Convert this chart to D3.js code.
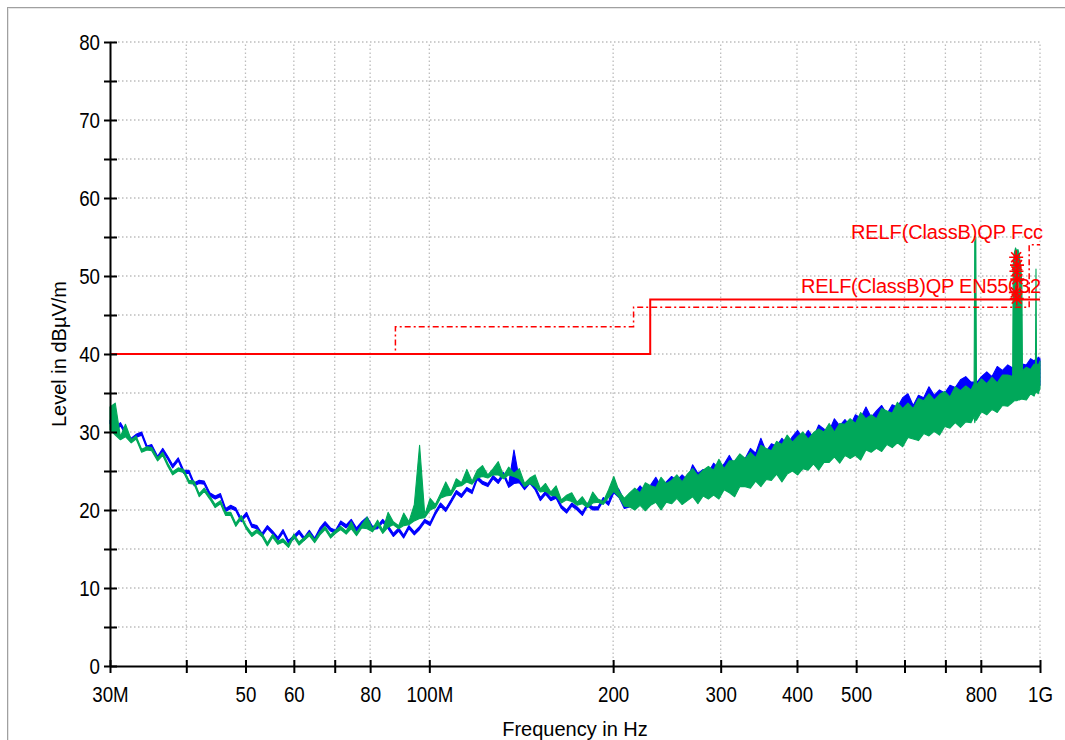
<!DOCTYPE html>
<html>
<head>
<meta charset="utf-8">
<script src="https://cdn.jsdelivr.net/npm/d3@7"></script>
<style>
body { margin: 0; background: #fff; }
svg { display: block; }
.axis text { font-family: "Liberation Sans", Arial, sans-serif; font-size: 22px; fill: #000; }
.axis line, .axis path { stroke: #000; stroke-width: 2; }
.grid line { stroke: #bdbdbd; stroke-width: 1.3; stroke-dasharray: 1.5,2.5; }
.title { font-family: "Liberation Sans", Arial, sans-serif; font-size: 20px; fill: #000; }
.limit-label { font-family: "Liberation Sans", Arial, sans-serif; font-size: 20px; fill: #ff0000; }
</style>
</head>
<body>
<script>
// Chart basic vars
var width = 1065,
    height = 740,
    margin = {left: 110, top: 42, right: 25, bottom: 74};

// sweep frequencies in MHz, shared by both traces
var freqs = [
  30.0, 30.6, 31.2, 31.8, 32.5, 33.1, 33.8, 34.5, 35.1, 35.9,
  36.6, 37.3, 38.0, 38.8, 39.6, 40.4, 41.2, 42.0, 42.8, 43.7,
  44.6, 45.5, 46.4, 47.3, 48.2, 49.2, 50.2, 51.2, 52.2, 53.2,
  54.3, 55.4, 56.5, 57.6, 58.8, 60.0, 61.2, 62.4, 63.6, 64.9,
  66.2, 67.5, 68.9, 70.2, 71.6, 73.1, 74.5, 76.0, 77.5, 79.1,
  80.7, 82.3, 83.9, 85.6, 87.3, 89.1, 90.8, 92.6, 94.5, 96.4,
  98.3, 100.3, 102.3, 104.3, 106.4, 108.5, 110.7, 112.9, 115.2, 117.5,
  119.8, 122.2, 124.7, 127.2, 129.7, 132.3, 134.9, 137.6, 140.4, 143.2,
  146.1, 149.0, 152.0, 155.0, 158.1, 161.3, 164.5, 167.8, 171.1, 174.6,
  178.1, 181.6, 185.2, 188.9, 192.7, 196.6, 200.5, 204.5, 208.6, 212.8,
  217.0, 221.4, 225.8, 230.3, 234.9, 239.6, 244.4, 249.3, 254.3, 259.4,
  264.6, 269.9, 275.3, 280.8, 286.4, 292.1, 298.0, 303.9, 310.0, 316.2,
  322.5, 329.0, 335.6, 342.3, 349.1, 356.1, 363.2, 370.5, 377.9, 385.5,
  393.2, 401.0, 409.1, 417.2, 425.6, 434.1, 442.8, 451.6, 460.6, 469.9,
  479.3, 488.8, 498.6, 508.6, 518.8, 529.1, 539.7, 550.5, 561.5, 572.8,
  584.2, 595.9, 607.8, 620.0, 632.4, 645.0, 657.9, 671.1, 684.5, 698.2,
  712.2, 726.4, 740.9, 755.8, 770.9, 780.0, 782.0, 785.0, 787.0, 802.0,
  818.1, 834.4, 851.1, 868.1, 885.5, 902.0, 904.0, 908.0, 912.0, 916.0,
  920.0, 925.0, 930.0, 934.0, 936.0, 950.0, 965.0, 978.0, 983.0, 985.0,
  987.0, 993.0, 1000.0
];

// blue trace: max / min level per sweep point (dBuV/m)
var blueHi = [
  31.5, 30.4, 31.2, 30.1, 29.2, 29.7, 30.0, 28.2, 28.4, 26.9,
  27.9, 26.9, 25.8, 26.7, 25.1, 25.1, 23.5, 23.8, 23.7, 22.2,
  21.8, 22.1, 20.2, 20.6, 20.3, 18.9, 19.7, 18.2, 18.0, 17.0,
  18.0, 17.3, 16.5, 17.5, 16.1, 16.7, 17.4, 16.5, 17.4, 16.4,
  17.7, 18.5, 17.7, 17.4, 18.6, 18.1, 18.8, 17.7, 18.5, 19.1,
  17.9, 18.0, 18.8, 18.0, 17.0, 17.7, 16.8, 18.0, 17.2, 17.9,
  18.8, 18.4, 19.8, 20.9, 20.2, 21.3, 22.5, 22.0, 22.9, 22.5,
  24.3, 23.7, 23.4, 24.4, 23.8, 24.8, 23.3, 27.7, 23.9, 23.0,
  23.8, 23.0, 21.6, 22.4, 21.6, 21.9, 20.6, 20.0, 20.9, 20.4,
  19.7, 20.9, 20.4, 20.4, 21.6, 21.0, 23.4, 22.6, 21.2, 21.8,
  22.2, 23.1, 22.3, 23.2, 24.2, 23.0, 23.6, 24.3, 23.8, 24.5,
  23.9, 25.8, 24.7, 25.2, 24.8, 26.0, 25.3, 25.9, 27.0, 25.8,
  26.9, 26.6, 27.9, 27.3, 29.2, 27.5, 28.5, 28.2, 29.2, 28.4,
  29.4, 30.2, 29.2, 30.2, 29.3, 30.9, 30.4, 30.1, 31.7, 30.8,
  31.6, 30.8, 32.2, 31.8, 33.2, 31.9, 32.7, 33.4, 32.3, 33.5,
  33.2, 34.4, 34.9, 33.4, 34.7, 34.4, 35.8, 34.7, 35.4, 35.0,
  36.0, 35.7, 36.7, 37.1, 36.4, 36.4, 36.5, 36.6, 36.3, 37.1,
  37.7, 37.1, 38.4, 37.9, 38.6, 38.2, 38.3, 38.0, 38.4, 38.1,
  38.5, 38.2, 38.6, 38.4, 38.7, 38.6, 39.4, 39.1, 39.3, 39.5,
  39.0, 39.6, 39.4
];
var blueLo = [
  31.1, 30.0, 30.8, 29.7, 28.8, 29.3, 29.6, 27.8, 28.0, 26.5,
  27.5, 26.5, 25.4, 26.3, 24.7, 24.7, 23.1, 23.4, 23.3, 21.8,
  21.4, 21.7, 19.8, 20.2, 19.9, 18.5, 19.3, 17.8, 17.6, 16.6,
  17.6, 16.9, 16.1, 17.1, 15.7, 16.3, 17.0, 16.1, 17.0, 16.0,
  17.3, 18.1, 17.3, 17.0, 18.2, 17.7, 18.4, 17.3, 18.1, 18.7,
  17.5, 17.6, 18.4, 17.6, 16.6, 17.3, 16.4, 17.6, 16.8, 17.5,
  18.4, 18.0, 19.4, 20.5, 19.8, 20.9, 22.1, 21.6, 22.5, 22.1,
  23.9, 23.3, 23.0, 24.0, 23.4, 24.4, 22.9, 23.4, 23.5, 22.6,
  23.4, 22.6, 21.2, 22.0, 21.2, 21.5, 20.2, 19.6, 20.5, 20.0,
  19.3, 20.5, 20.0, 20.0, 21.2, 20.6, 22.2, 21.6, 20.2, 20.4,
  20.9, 21.0, 21.1, 21.2, 21.3, 21.4, 21.5, 21.6, 21.7, 21.8,
  21.9, 22.0, 22.1, 22.2, 22.3, 22.4, 22.6, 22.8, 23.0, 23.2,
  23.4, 23.6, 23.8, 24.0, 24.2, 24.4, 24.6, 24.8, 25.0, 25.2,
  25.4, 25.6, 25.8, 26.0, 26.2, 26.4, 26.6, 26.8, 27.0, 27.2,
  27.4, 27.5, 27.6, 27.8, 28.0, 28.2, 28.4, 28.6, 28.8, 29.0,
  29.2, 29.4, 29.6, 29.8, 30.0, 30.2, 30.4, 30.6, 30.8, 31.1,
  31.3, 31.5, 31.7, 31.9, 32.2, 32.4, 32.4, 32.4, 32.4, 33.0,
  33.2, 33.4, 33.6, 33.8, 34.1, 34.4, 34.5, 34.5, 34.5, 34.5,
  34.5, 34.5, 34.5, 34.5, 34.7, 34.9, 35.2, 35.5, 35.6, 35.6,
  35.7, 35.8, 36.0
];

// green trace: max / min level per sweep point (dBuV/m)
var greenHi = [
  33.2, 33.7, 29.4, 31.0, 29.0, 29.5, 27.8, 28.1, 28.0, 26.7,
  27.4, 26.0, 24.9, 25.4, 25.2, 23.8, 23.7, 22.1, 22.8, 21.8,
  20.7, 21.2, 19.7, 19.7, 18.3, 19.3, 17.9, 17.0, 17.5, 17.0,
  15.8, 16.9, 16.0, 16.3, 15.6, 16.9, 15.9, 16.5, 17.1, 16.2,
  17.2, 17.9, 16.8, 17.4, 17.9, 17.3, 18.5, 17.1, 18.1, 19.1,
  17.6, 18.7, 17.4, 19.7, 18.5, 18.0, 19.6, 18.5, 20.7, 28.3,
  19.4, 21.5, 20.7, 22.1, 23.6, 22.3, 24.0, 23.5, 25.2, 23.7,
  25.1, 25.7, 24.5, 25.3, 26.2, 24.4, 25.5, 24.7, 25.3, 23.4,
  24.1, 24.5, 22.7, 23.4, 22.3, 23.1, 21.3, 21.9, 22.2, 21.0,
  21.7, 20.7, 22.3, 21.4, 21.1, 22.6, 24.3, 22.4, 21.5, 22.2,
  22.8, 22.2, 23.5, 23.1, 22.9, 24.2, 23.4, 23.8, 24.5, 23.6,
  24.6, 25.3, 24.4, 25.1, 25.6, 25.1, 26.5, 25.3, 26.3, 26.3,
  27.2, 26.6, 27.4, 26.7, 28.3, 27.9, 27.6, 28.8, 28.4, 29.6,
  28.7, 29.4, 30.0, 29.1, 29.9, 30.4, 30.0, 31.1, 30.0, 31.1,
  31.0, 31.7, 31.1, 32.5, 31.7, 32.2, 31.7, 33.0, 32.7, 32.4,
  33.8, 33.0, 33.7, 33.0, 34.3, 34.0, 34.9, 34.1, 34.8, 35.2,
  34.5, 35.8, 35.3, 35.9, 35.4, 36.2, 55.1, 55.0, 36.0, 36.8,
  36.2, 37.0, 36.3, 37.3, 37.3, 37.1, 51.5, 53.0, 53.6, 53.2,
  53.4, 52.8, 51.0, 49.0, 37.9, 38.3, 38.0, 38.7, 38.4, 50.9,
  38.8, 38.5, 39.1
];
var greenLo = [
  30.3, 29.6, 29.0, 29.4, 28.6, 29.1, 27.4, 27.7, 27.6, 26.3,
  27.0, 25.6, 24.5, 25.0, 24.8, 23.4, 23.3, 21.7, 22.4, 21.4,
  20.3, 20.8, 19.3, 19.3, 17.9, 18.9, 17.5, 16.6, 17.1, 16.6,
  15.4, 16.5, 15.6, 15.9, 15.2, 16.5, 15.5, 16.1, 16.7, 15.8,
  16.8, 17.5, 16.4, 17.0, 17.5, 16.9, 17.6, 16.7, 17.7, 17.6,
  17.2, 18.1, 17.0, 17.8, 18.1, 17.6, 18.0, 18.1, 18.6, 18.9,
  19.0, 20.0, 20.3, 21.5, 21.8, 21.9, 23.0, 23.1, 23.6, 23.3,
  24.1, 24.3, 24.1, 24.5, 24.5, 24.0, 24.5, 24.3, 24.0, 23.0,
  23.4, 23.0, 22.3, 22.4, 21.9, 21.8, 20.9, 21.3, 21.1, 20.6,
  20.8, 20.3, 20.9, 21.0, 20.7, 21.6, 22.4, 21.6, 20.5, 20.4,
  20.0, 20.6, 19.9, 20.6, 21.0, 20.0, 21.0, 20.8, 21.5, 20.7,
  21.2, 21.7, 20.8, 21.8, 21.4, 21.9, 21.4, 22.6, 22.2, 21.7,
  23.0, 23.0, 22.8, 23.7, 23.0, 23.9, 23.8, 24.6, 23.6, 24.6,
  25.0, 24.5, 25.3, 25.1, 25.9, 25.1, 26.1, 26.1, 26.8, 26.0,
  27.0, 26.6, 27.0, 26.4, 27.7, 27.4, 27.9, 27.5, 28.4, 28.0,
  28.6, 28.1, 29.3, 29.1, 28.9, 29.8, 29.5, 30.1, 29.6, 30.7,
  30.5, 31.2, 30.6, 31.3, 31.2, 32.0, 31.2, 31.9, 31.5, 32.6,
  32.2, 32.9, 32.5, 33.4, 33.3, 33.8, 33.9, 34.0, 34.0, 34.0,
  34.1, 34.1, 34.2, 34.2, 34.2, 34.1, 34.9, 34.6, 35.1, 35.0,
  35.2, 34.9, 35.6
];

// limit lines
var enLimitFreq = [30, 230, 230, 1000],
    enLimitLevel = [40, 40, 47, 47];
var fccLimitFreq = [30, 88, 88, 216, 216, 960, 960, 1000],
    fccLimitLevel = [40, 40, 43.5, 43.5, 46, 46, 54, 54];
var limitNames = ['RELF(ClassB)QP Fcc', 'RELF(ClassB)QP EN55032'];

// peak markers
var markerFreq = [914, 917, 915, 918, 913, 916],
    markerLevel = [52.4, 51.4, 50.6, 49.6, 47.9, 47.1];

// ticks
var xTickValues = [30, 40, 50, 60, 70, 80, 100, 200, 300, 400, 500, 600, 700, 800, 1000],
    xTickLabels = ['30M', '', '50', '60', '', '80', '100M', '200', '300', '400', '500', '', '', '800', '1G'];
var yTickValues = [0, 5, 10, 15, 20, 25, 30, 35, 40, 45, 50, 55, 60, 65, 70, 75, 80],
    yTickLabels = ['0', '', '10', '', '20', '', '30', '', '40', '', '50', '', '60', '', '70', '', '80'];

// scales
var x = d3.scaleLog()
        .domain([30, 1000])
        .range([margin.left, width - margin.right]),
    y = d3.scaleLinear()
        .domain([0, 80])
        .range([height - margin.bottom, margin.top]);

var svg = d3.select('body').append('svg')
    .attr('width', width)
    .attr('height', height);

// outer frame
svg.append('rect')
    .attr('x', 7.5).attr('y', 7.5)
    .attr('width', 1100).attr('height', 800)
    .attr('fill', 'none').attr('stroke', '#a0a0a0');
svg.append('rect')
    .attr('x', 8.5).attr('y', 8.5)
    .attr('width', 1100).attr('height', 800)
    .attr('fill', 'none').attr('stroke', '#e6e6e6');

// grid
var grid = svg.append('g').attr('class', 'grid');
grid.selectAll('.vgrid')
        .data(xTickValues.slice(1))
    .enter().append('line')
    .attr('x1', function(d) { return x(d); })
    .attr('x2', function(d) { return x(d); })
    .attr('y1', y(0))
    .attr('y2', y(80));
grid.selectAll('.hgrid')
        .data(yTickValues.slice(1))
    .enter().append('line')
    .attr('x1', x(30))
    .attr('x2', x(1000))
    .attr('y1', function(d) { return y(d); })
    .attr('y2', function(d) { return y(d); });

// traces as min/max bands
function rows(hi, lo) {
    return freqs.map(function(f, i) { return {f: f, hi: hi[i], lo: lo[i]}; });
}
var band = d3.area()
    .x(function(d) { return x(d.f); })
    .y0(function(d) { return y(d.lo); })
    .y1(function(d) { return y(d.hi); });

svg.append('path')
    .datum(rows(blueHi, blueLo))
    .attr('d', band)
    .attr('fill', '#0000ff')
    .attr('stroke', '#0000ff')
    .attr('stroke-width', 1.1)
    .attr('stroke-linejoin', 'round');
svg.append('path')
    .datum(rows(greenHi, greenLo))
    .attr('d', band)
    .attr('fill', '#00a85a')
    .attr('stroke', '#00a85a')
    .attr('stroke-width', 1.1)
    .attr('stroke-linejoin', 'round');

// limit lines
var limitLine = d3.line()
    .x(function(d) { return x(d[0]); })
    .y(function(d) { return y(d[1]); });
svg.append('path')
    .datum(fccLimitFreq.map(function(f, i) { return [f, fccLimitLevel[i]]; }))
    .attr('d', limitLine)
    .attr('fill', 'none')
    .attr('stroke', '#ff0000')
    .attr('stroke-width', 1.5)
    .attr('stroke-dasharray', '6,3,2,3');
svg.append('path')
    .datum(enLimitFreq.map(function(f, i) { return [f, enLimitLevel[i]]; }))
    .attr('d', limitLine)
    .attr('fill', 'none')
    .attr('stroke', '#ff0000')
    .attr('stroke-width', 2);

// limit labels
svg.append('text')
    .attr('class', 'limit-label')
    .attr('x', x(1000) + 3)
    .attr('y', y(54) - 6)
    .attr('text-anchor', 'end')
    .attr('textLength', 192)
    .attr('lengthAdjust', 'spacing')
    .text(limitNames[0]);
svg.append('text')
    .attr('class', 'limit-label')
    .attr('x', x(1000) + 1)
    .attr('y', y(47) - 6)
    .attr('text-anchor', 'end')
    .attr('textLength', 240)
    .attr('lengthAdjust', 'spacing')
    .text(limitNames[1]);

// peak markers (asterisks)
var r = 7, dg = 5;
svg.selectAll('.marker')
        .data(markerFreq)
    .enter().append('path')
    .attr('transform', function(d, i) { return 'translate(' + x(d) + ',' + y(markerLevel[i]) + ')'; })
    .attr('d', 'M' + (-r) + ',0L' + r + ',0M0,' + (-r) + 'L0,' + r +
               'M' + (-dg) + ',' + (-dg) + 'L' + dg + ',' + dg +
               'M' + (-dg) + ',' + dg + 'L' + dg + ',' + (-dg))
    .attr('fill', 'none')
    .attr('stroke', '#ff0000')
    .attr('stroke-width', 1.6);

// axes
var xAxis = d3.axisBottom(x)
        .tickValues(xTickValues)
        .tickFormat(function(d, i) { return xTickLabels[i]; })
        .tickSizeOuter(0),
    yAxis = d3.axisLeft(y)
        .tickValues(yTickValues)
        .tickFormat(function(d, i) { return yTickLabels[i]; })
        .tickSizeOuter(0);

// narrow bitmap-like tick font
var squeeze = 0.85;

var gx = svg.append('g')
    .attr('class', 'axis')
    .attr('transform', 'translate(0,' + y(0) + ')')
    .call(xAxis);
gx.selectAll('.tick line').attr('y1', -6).attr('y2', 7);
gx.selectAll('.tick text')
    .attr('y', 20).attr('dy', '0.71em')
    .attr('transform', 'scale(' + squeeze + ',1)');

var gy = svg.append('g')
    .attr('class', 'axis')
    .attr('transform', 'translate(' + x(30) + ',0)')
    .call(yAxis);
gy.selectAll('.tick line').attr('x1', -6).attr('x2', 7);
gy.selectAll('.tick text')
    .attr('x', -10 / squeeze).attr('dy', '0.34em')
    .attr('transform', 'scale(' + squeeze + ',1)');

// axis titles
svg.append('text')
    .attr('class', 'title')
    .attr('x', (x(30) + x(1000)) / 2)
    .attr('y', 736)
    .attr('text-anchor', 'middle')
    .text('Frequency in Hz');
svg.append('text')
    .attr('class', 'title')
    .attr('transform', 'translate(66,' + (y(0) + y(80)) / 2 + ') rotate(-90)')
    .attr('text-anchor', 'middle')
    .text('Level in dB\u00b5V/m');
</script>
</body>
</html>
